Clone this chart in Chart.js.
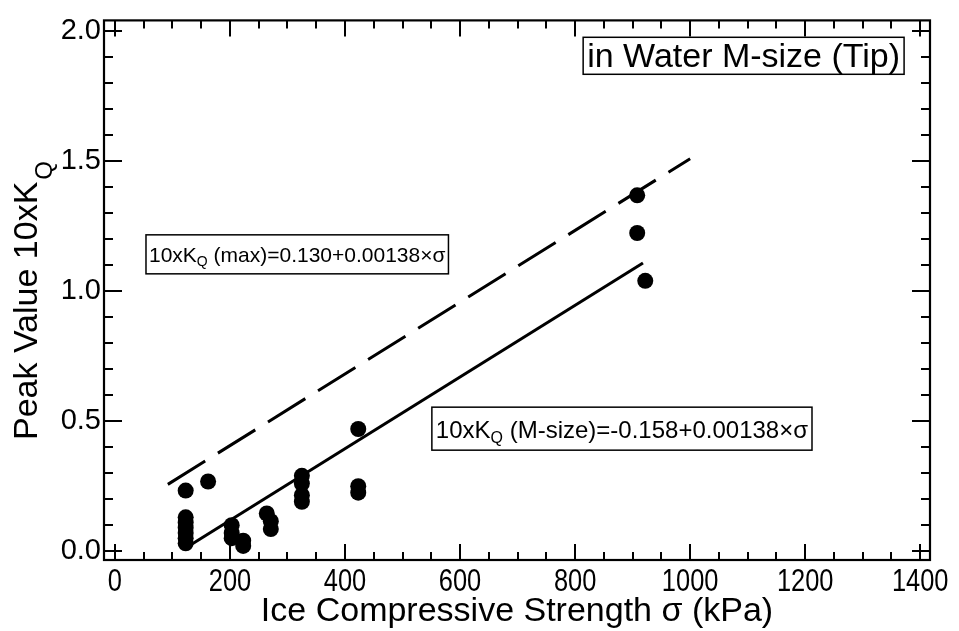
<!DOCTYPE html>
<html><head><meta charset="utf-8">
<script src="https://cdn.jsdelivr.net/npm/chart.js@4.4.0/dist/chart.umd.min.js"></script>
<style>html,body{margin:0;padding:0;background:#fff;} #wrap{width:959px;height:631px;}</style>
</head><body><div id="wrap"><canvas id="c" width="959" height="631"></canvas></div>
<script>
// ---- data ----
const strengthKPa = [123, 123, 123, 123, 123, 123, 123, 162, 203, 203, 203, 223, 223, 264, 271, 271, 325, 325, 325, 325, 423, 423, 423, 908, 908, 922];
const peakValue   = [0.233, 0.13, 0.11, 0.09, 0.07, 0.05, 0.03, 0.268, 0.10, 0.07, 0.05, 0.04, 0.02, 0.145, 0.115, 0.085, 0.29, 0.26, 0.215, 0.19, 0.47, 0.25, 0.225, 1.369, 1.224, 1.04];
const maxLineX = [92, 1000];
const maxLineY = [0.257, 1.51];
const mSizeLineX = [125, 918];
const mSizeLineY = [0.015, 1.109];
const xTickLabels = ['0', '200', '400', '600', '800', '1000', '1200', '1400'];
const yTickLabels = ['0.0', '0.5', '1.0', '1.5', '2.0'];
const xTitle = 'Ice Compressive Strength \u03c3 (kPa)';
const yTitleMain = 'Peak Value 10xK';
const yTitleSub = 'Q';
const noteTitle = 'in Water M-size (Tip)';
const noteMax = ['10xK', 'Q', ' (max)=0.130+0.00138\u00d7\u03c3'];
const noteM = ['10xK', 'Q', ' (M-size)=-0.158+0.00138\u00d7\u03c3'];

const FONT = '"Liberation Sans", Arial, Helvetica, sans-serif';

const pts = strengthKPa.map((x, i) => ({x: x, y: peakValue[i]}));
const toPts = (xs, ys) => xs.map((x, i) => ({x: x, y: ys[i]}));

function drawSubText(ctx, parts, x, y, size) {
  ctx.font = size + 'px ' + FONT;
  ctx.fillText(parts[0], x, y);
  let w = ctx.measureText(parts[0]).width;
  const sub = Math.round(size * 0.68);
  ctx.font = sub + 'px ' + FONT;
  ctx.fillText(parts[1], x + w, y + size * 0.2);
  w += ctx.measureText(parts[1]).width;
  ctx.font = size + 'px ' + FONT;
  ctx.fillText(parts[2], x + w, y);
  w += ctx.measureText(parts[2]).width;
  return w;
}
function measureSub(ctx, parts, size) {
  ctx.font = size + 'px ' + FONT;
  let w = ctx.measureText(parts[0]).width + ctx.measureText(parts[2]).width;
  ctx.font = Math.round(size * 0.68) + 'px ' + FONT;
  return w + ctx.measureText(parts[1]).width;
}

const decor = {
  id: 'decor',
  afterDraw(chart) {
    const ctx = chart.ctx, a = chart.chartArea;
    const xs = chart.scales.x, ys = chart.scales.y;
    ctx.save();
    ctx.strokeStyle = '#000'; ctx.fillStyle = '#000';
    // ticks
    ctx.lineWidth = 2;
    ctx.beginPath();
    for (let v = 0; v <= 1400; v += 50) {
      const px = Math.round(xs.getPixelForValue(v));
      const L = (v % 200 === 0) ? 16 : 8;
      ctx.moveTo(px, a.bottom); ctx.lineTo(px, a.bottom - L);
      ctx.moveTo(px, a.top); ctx.lineTo(px, a.top + L);
    }
    for (let k = 0; k <= 20; k++) {
      const v = k / 10;
      const py = Math.round(ys.getPixelForValue(v));
      const L = (k % 5 === 0) ? 18 : 9;
      ctx.moveTo(a.left, py); ctx.lineTo(a.left + L, py);
      ctx.moveTo(a.right, py); ctx.lineTo(a.right - L, py);
    }
    ctx.stroke();
    // frame
    ctx.lineWidth = 2.2;
    ctx.strokeRect(a.left, a.top, a.right - a.left, a.bottom - a.top);
    // x tick labels (narrow, like the reference), placed by the x scale
    ctx.textAlign = 'center'; ctx.textBaseline = 'alphabetic';
    ctx.font = '31px ' + FONT;
    xTickLabels.forEach((lab) => {
      const px = xs.getPixelForValue(Number(lab));
      ctx.save();
      ctx.translate(px, 591);
      ctx.scale(0.82, 1);
      ctx.fillText(lab, 0, 0);
      ctx.restore();
    });
    // x title
    ctx.font = '34px ' + FONT;
    ctx.fillText(xTitle, (a.left + a.right) / 2, 621);
    // y title (rotated) with subscript
    ctx.save();
    ctx.translate(37, 440);
    ctx.rotate(-Math.PI / 2);
    ctx.textAlign = 'left';
    ctx.font = '34px ' + FONT;
    ctx.fillText(yTitleMain, 0, 0);
    const w = ctx.measureText(yTitleMain).width;
    ctx.font = '24px ' + FONT;
    ctx.fillText(yTitleSub, w + 2, 15);
    ctx.restore();
    // annotation boxes
    ctx.textAlign = 'left';
    ctx.lineWidth = 1.5;
    {
      const bx = xs.getPixelForValue(814), by = ys.getPixelForValue(1.977);
      ctx.font = '34px ' + FONT;
      const tw = ctx.measureText(noteTitle).width;
      ctx.fillStyle = '#fff'; ctx.fillRect(bx, by, tw + 8, 37);
      ctx.strokeRect(bx, by, tw + 8, 37);
      ctx.fillStyle = '#000'; ctx.fillText(noteTitle, bx + 4, by + 30);
    }
    {
      const bx = xs.getPixelForValue(54), by = ys.getPixelForValue(1.217);
      const tw = measureSub(ctx, noteMax, 21);
      ctx.fillStyle = '#fff'; ctx.fillRect(bx, by, tw + 6, 39);
      ctx.strokeRect(bx, by, tw + 6, 39);
      ctx.fillStyle = '#000'; drawSubText(ctx, noteMax, bx + 3, by + 27, 21);
    }
    {
      const bx = xs.getPixelForValue(551), by = ys.getPixelForValue(0.554);
      const tw = measureSub(ctx, noteM, 24);
      ctx.fillStyle = '#fff'; ctx.fillRect(bx, by, tw + 8, 43);
      ctx.strokeRect(bx, by, tw + 8, 43);
      ctx.fillStyle = '#000'; drawSubText(ctx, noteM, bx + 4, by + 31, 24);
    }
    ctx.restore();
  }
};

new Chart(document.getElementById('c'), {
  type: 'scatter',
  data: {
    datasets: [
      { label: 'data', data: pts, pointRadius: 8, pointHoverRadius: 8, backgroundColor: '#000', borderColor: '#000', borderWidth: 0, showLine: false, order: 1 },
      { label: 'max', data: toPts(maxLineX, maxLineY), showLine: true, pointRadius: 0, borderColor: '#000', borderWidth: 3, borderDash: [44, 15], fill: false, order: 2 },
      { label: 'M-size', data: toPts(mSizeLineX, mSizeLineY), showLine: true, pointRadius: 0, borderColor: '#000', borderWidth: 3, fill: false, order: 2 }
    ]
  },
  options: {
    responsive: false,
    animation: false,
    events: [],
    layout: { padding: { top: 18, right: 29, left: 0, bottom: 0 } },
    plugins: { legend: { display: false }, tooltip: { enabled: false } },
    scales: {
      x: {
        type: 'linear', min: -19, max: 1417,
        grid: { display: false, drawTicks: false },
        border: { display: false },
        ticks: { display: false },
        afterFit: (s) => { s.height = 71; }
      },
      y: {
        type: 'linear', min: -0.034, max: 2.042,
        grid: { display: false, drawTicks: false },
        border: { display: false },
        ticks: {
          stepSize: 0.5, includeBounds: false, padding: 3, color: '#000',
          font: { family: FONT, size: 29 },
          callback: (v) => { const i = Math.round(v / 0.5); return yTickLabels[i] !== undefined ? yTickLabels[i] : ''; }
        },
        afterFit: (s) => { s.width = 104; }
      }
    }
  },
  plugins: [decor]
});
</script>
</body></html>
